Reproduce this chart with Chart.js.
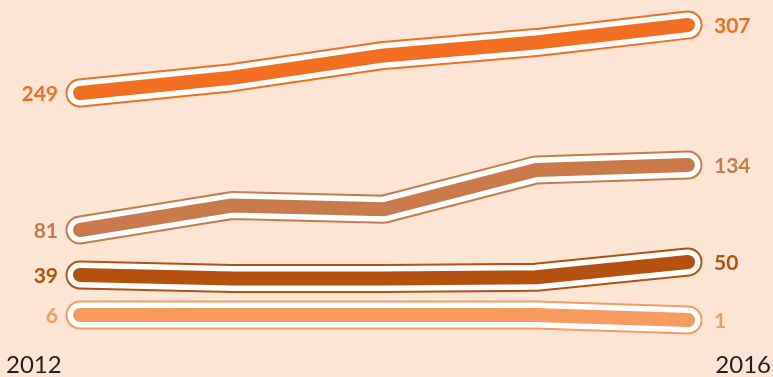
<!DOCTYPE html>
<html>
<head>
<meta charset="utf-8">
<script src="https://cdn.jsdelivr.net/npm/chart.js@4.4.1/dist/chart.umd.min.js"></script>
<style>
  html, body { margin: 0; padding: 0; background: #fde4d4; }
  #wrap { width: 773px; height: 377px; position: relative; }
</style>
</head>
<body>
<div id="wrap"><canvas id="trend"></canvas></div>
<script>
// Years along the x axis
const years = ["2012", "2013", "2014", "2015", "2016"];

// One series per band
const seriesA = [249, 262, 281, 292, 307];
const seriesB = [81, 101, 98, 130, 134];
const seriesC = [39, 36, 36, 37, 50];
const seriesD = [6, 6, 6, 6, 1];

const seriesColors = ["#f26f22", "#c97a4b", "#b4510f", "#f89b5f"];

// Each band has its own hidden value axis (min, max)
const axisMin = [6.7, -38.9, -47.5, -56];
const axisMax = [328.3, 268.6, 272, 321];

const allSeries = [seriesA, seriesB, seriesC, seriesD];

// Three stacked strokes per series: coloured rim, white ring, coloured core
function layers(data, color, axisId) {
  const base = {
    data,
    yAxisID: axisId,
    pointRadius: 0,
    tension: 0,
    clip: false,
    borderCapStyle: "round",
    borderJoinStyle: "round",
    fill: false,
  };
  return [
    { ...base, borderColor: color, borderWidth: 14, order: 1, isCore: true },
    { ...base, borderColor: "#ffffff", borderWidth: 25, order: 2 },
    { ...base, borderColor: color, borderWidth: 29, order: 3 },
  ];
}

const datasets = [];
const scales = {
  x: { type: "category", display: false, offset: false },
};
allSeries.forEach((s, i) => {
  const id = "y" + i;
  datasets.push(...layers(s, seriesColors[i], id));
  scales[id] = { type: "linear", display: false, min: axisMin[i], max: axisMax[i] };
});

// End labels for each series plus the first/last year in the corners
const labelPlugin = {
  id: "endLabels",
  afterDatasetsDraw(chart) {
    const ctx = chart.ctx;
    ctx.save();
    ctx.font = "bold 21px Lato, 'Open Sans', sans-serif";
    ctx.textBaseline = "middle";
    chart.data.datasets.forEach((ds, di) => {
      if (!ds.isCore) return;
      const pts = chart.getDatasetMeta(di).data;
      const first = pts[0], last = pts[pts.length - 1];
      ctx.fillStyle = ds.borderColor;
      ctx.textAlign = "right";
      ctx.fillText(String(ds.data[0]), first.x - 22, first.y + 1);
      ctx.textAlign = "left";
      ctx.fillText(String(ds.data[ds.data.length - 1]), last.x + 26, last.y + 1);
    });

    ctx.font = "24px Lato, 'Open Sans', sans-serif";
    ctx.fillStyle = "#231f20";
    ctx.textBaseline = "alphabetic";
    ctx.textAlign = "left";
    ctx.fillText(years[0], 6, 373);
    ctx.textAlign = "right";
    ctx.fillText(years[years.length - 1], chart.width - 2, 373);
    ctx.restore();
  },
};

new Chart(document.getElementById("trend"), {
  type: "line",
  data: { labels: years, datasets },
  options: {
    responsive: true,
    maintainAspectRatio: false,
    animation: false,
    layout: { padding: { left: 80, right: 85, top: 0, bottom: 0 } },
    scales,
    plugins: { legend: { display: false }, tooltip: { enabled: false } },
  },
  plugins: [labelPlugin],
});
</script>
</body>
</html>
